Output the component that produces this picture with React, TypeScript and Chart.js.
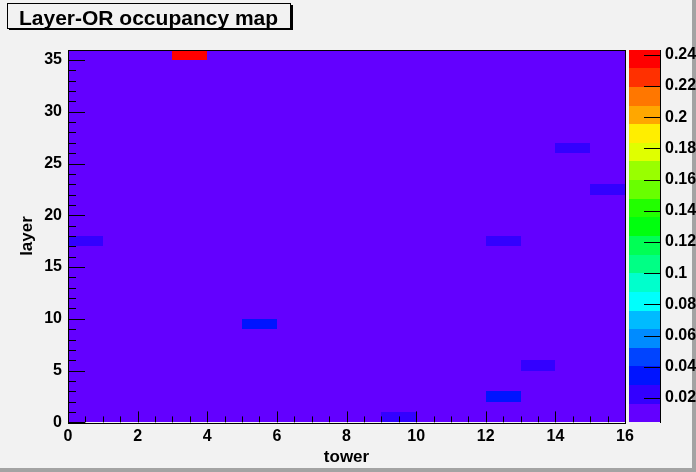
import React, { useEffect, useRef } from 'react';
import { Chart, registerables } from 'chart.js';

Chart.register(...registerables);

// ---- data ----
const towerBins = [0, 1, 2, 3, 4, 5, 6, 7, 8, 9, 10, 11, 12, 13, 14, 15];
const layerBins = [0, 1, 2, 3, 4, 5, 6, 7, 8, 9, 10, 11, 12, 13, 14, 15, 16, 17, 18, 19, 20, 21, 22, 23, 24, 25, 26, 27, 28, 29, 30, 31, 32, 33, 34, 35];
const hotTower = [3, 0, 12, 14, 15, 5, 13, 12, 9];
const hotLayer = [35, 17, 17, 26, 22, 9, 5, 2, 0];
const hotValue = [0.24, 0.02, 0.02, 0.02, 0.02, 0.035, 0.02, 0.035, 0.02];
const baseValue = 0.008;

const xTicks = [0, 2, 4, 6, 8, 10, 12, 14, 16];
const yTicks = [0, 5, 10, 15, 20, 25, 30, 35];
const zTicks = [0.02, 0.04, 0.06, 0.08, 0.1, 0.12, 0.14, 0.16, 0.18, 0.2, 0.22, 0.24];
const zTickLabels = ['0.02', '0.04', '0.06', '0.08', '0.1', '0.12', '0.14', '0.16', '0.18', '0.2', '0.22', '0.24'];

const titleText = 'Layer-OR occupancy map';
const xTitle = 'tower';
const yTitle = 'layer';

const zMin = 0.0043;
const zMax = 0.2434;
const nLevels = 20;

const FONT = "'Liberation Sans', Arial, Helvetica, sans-serif";

function levelColor(k: number) {
  const idx = Math.floor(((k + 0.99) * 50) / nLevels);
  const hue = 280 - (idx + 1) * 5.6;
  return `hsl(${hue},100%,50%)`;
}
function valueLevel(v: number) {
  const dz = (zMax - zMin) / nLevels;
  let k = Math.floor((v - zMin) / dz);
  if (k < 0) k = 0;
  if (k > nLevels - 1) k = nLevels - 1;
  return k;
}

function buildCells() {
  const cells: { x: number; y: number; v: number }[] = [];
  for (const t of towerBins) {
    for (const l of layerBins) {
      let v = baseValue;
      for (let i = 0; i < hotTower.length; i++) {
        if (hotTower[i] === t && hotLayer[i] === l) v = hotValue[i];
      }
      cells.push({ x: t, y: l, v });
    }
  }
  return cells;
}

const rootPlugin = {
  id: 'root2d',
  beforeDraw(chart: any) {
    const { ctx, width, height } = chart;
    ctx.save();
    ctx.fillStyle = '#f2f2f2';
    ctx.fillRect(0, 0, width, height);
    // bevel border
    ctx.fillStyle = '#a3a3a3';
    ctx.fillRect(width - 4, 0, 4, height);
    ctx.fillRect(0, height - 4, width, 4);
    // title box
    ctx.fillStyle = '#f2f2f2';
    ctx.fillRect(7, 3, 284, 26);
    ctx.strokeStyle = '#000';
    ctx.lineWidth = 1;
    ctx.strokeRect(7.5, 3.5, 283, 25);
    ctx.fillStyle = '#000';
    ctx.fillRect(290, 5, 3, 25);
    ctx.fillRect(9, 28, 284, 2);
    ctx.font = `bold 21px ${FONT}`;
    ctx.textBaseline = 'alphabetic';
    ctx.textAlign = 'left';
    ctx.fillText(titleText, 19, 25);
    ctx.restore();
  },
  beforeDatasetsDraw(chart: any) {
    const { ctx } = chart;
    const xs = chart.scales.x;
    const ys = chart.scales.y;
    const zs = chart.scales.z;
    const data = chart.data.datasets[0].data as { x: number; y: number; v: number }[];
    ctx.save();
    for (const c of data) {
      const x0 = Math.round(xs.getPixelForValue(c.x));
      const x1 = Math.round(xs.getPixelForValue(c.x + 1));
      const y0 = Math.round(ys.getPixelForValue(c.y + 1));
      const y1 = Math.round(ys.getPixelForValue(c.y));
      ctx.fillStyle = levelColor(valueLevel(c.v));
      ctx.fillRect(x0, y0, x1 - x0, y1 - y0);
    }
    // colour bar
    const dz = (zMax - zMin) / nLevels;
    const bx0 = 629;
    const bx1 = 661;
    for (let k = 0; k < nLevels; k++) {
      const yb = Math.round(zs.getPixelForValue(zMin + k * dz));
      const yt = Math.round(zs.getPixelForValue(zMin + (k + 1) * dz));
      ctx.fillStyle = levelColor(k);
      ctx.fillRect(bx0, yt, bx1 - bx0, yb - yt);
    }
    ctx.restore();
  },
  afterDatasetsDraw(chart: any) {
    const { ctx, chartArea } = chart;
    const xs = chart.scales.x;
    const ys = chart.scales.y;
    const zs = chart.scales.z;
    const { left, right, top, bottom } = chartArea;
    ctx.save();
    ctx.strokeStyle = '#000';
    ctx.lineWidth = 1;
    ctx.beginPath();
    // x ticks
    for (let v = 0; v <= 16.001; v += 0.5) {
      const px = Math.round(xs.getPixelForValue(v)) + 0.5;
      const major = xTicks.includes(v);
      const len = major ? 11 : 6;
      ctx.moveTo(px, bottom);
      ctx.lineTo(px, bottom - len);
    }
    // y ticks
    for (let v = 0; v <= 36; v += 1) {
      const py = Math.round(ys.getPixelForValue(v)) + 0.5;
      const major = yTicks.includes(v);
      const len = major ? 17 : 8;
      ctx.moveTo(left, py);
      ctx.lineTo(left + len, py);
    }
    // colour bar ticks
    for (const v of zTicks) {
      const py = Math.round(zs.getPixelForValue(v)) + 0.5;
      ctx.moveTo(661, py);
      ctx.lineTo(644, py);
    }
    ctx.stroke();
    // frame
    ctx.strokeRect(Math.round(left) + 0.5, Math.round(top) + 0.5, Math.round(right - left), Math.round(bottom - top));
    ctx.beginPath();
    ctx.moveTo(660.5, Math.round(top));
    ctx.lineTo(660.5, Math.round(bottom) + 1);
    ctx.stroke();
    ctx.restore();
  },
};

export default function App() {
  const ref = useRef<HTMLCanvasElement | null>(null);
  useEffect(() => {
    document.body.style.margin = '0';
    const canvas = ref.current;
    if (!canvas) return;
    const tickFont = { family: FONT, size: 16, weight: 'bold' as const };
    const titleFont = { family: FONT, size: 17, weight: 'bold' as const };
    const noGrid = { display: false, drawTicks: false, drawOnChartArea: false };
    const chart = new Chart(canvas, {
      type: 'scatter',
      data: {
        datasets: [
          {
            data: buildCells(),
            pointRadius: 0,
            pointHoverRadius: 0,
          },
        ],
      },
      plugins: [rootPlugin],
      options: {
        animation: false,
        responsive: false,
        events: [],
        layout: { padding: { top: 47, left: 0, right: 0, bottom: 0 } },
        plugins: { legend: { display: false }, tooltip: { enabled: false }, title: { display: false } },
        scales: {
          x: {
            type: 'linear',
            position: 'bottom',
            min: 0,
            max: 16,
            grid: noGrid,
            border: { display: false },
            afterFit: (s: any) => {
              s.height = 48;
            },
            afterBuildTicks: (s: any) => {
              s.ticks = xTicks.map((v) => ({ value: v }));
            },
            ticks: { font: tickFont, color: '#000', padding: 5, autoSkip: false, maxRotation: 0 },
            title: { display: true, text: xTitle, font: titleFont, color: '#000', padding: { top: 0, bottom: 3 } },
          },
          y: {
            type: 'linear',
            position: 'left',
            min: 0,
            max: 36,
            grid: noGrid,
            border: { display: false },
            afterFit: (s: any) => {
              s.width = 68;
            },
            afterBuildTicks: (s: any) => {
              s.ticks = yTicks.map((v) => ({ value: v }));
            },
            ticks: { font: tickFont, color: '#000', padding: 6, autoSkip: false },
            title: { display: true, text: yTitle, font: titleFont, color: '#000', padding: { top: 17, bottom: 0 } },
          },
          z: {
            type: 'linear',
            position: 'right',
            min: zMin,
            max: zMax,
            grid: noGrid,
            border: { display: false },
            afterFit: (s: any) => {
              s.width = 71;
            },
            afterBuildTicks: (s: any) => {
              s.ticks = zTicks.map((v) => ({ value: v }));
            },
            ticks: {
              font: tickFont,
              color: '#000',
              padding: 40,
              autoSkip: false,
              callback: (v: any) => {
                const i = zTicks.indexOf(Number(v));
                return i >= 0 ? zTickLabels[i] : '';
              },
            },
          },
        },
      },
    });
    return () => chart.destroy();
  }, []);
  return (
    <div style={{ position: 'fixed', left: 0, top: 0, width: 696, height: 472 }}>
      <canvas ref={ref} width={696} height={472} style={{ display: 'block', width: 696, height: 472 }} />
    </div>
  );
}
